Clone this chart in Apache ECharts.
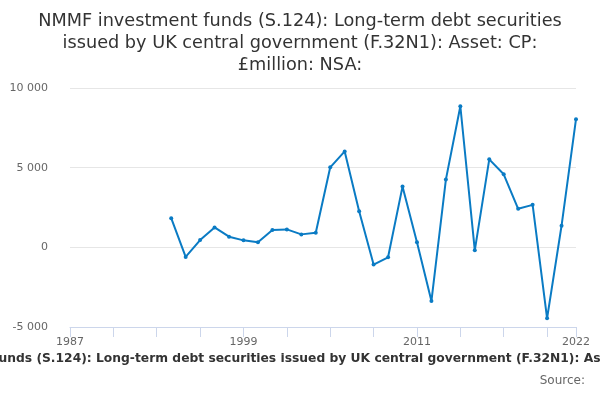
<!DOCTYPE html>
<html>
<head>
<meta charset="utf-8">
<script src="https://cdn.jsdelivr.net/npm/echarts@6/dist/echarts.min.js"></script>
<style>html,body{margin:0;padding:0;background:#fff}#c{width:600px;height:400px}</style>
</head>
<body>
<div id="c"></div>
<script>
var years = [];
for (var y = 1987; y <= 2022; y++) years.push(String(y));
var dataYears = ['1994','1995','1996','1997','1998','1999','2000','2001','2002','2003','2004','2005','2006','2007','2008','2009','2010','2011','2012','2013','2014','2015','2016','2017','2018','2019','2020','2021','2022'];
var dataValues = [1833,-604,458,1250,667,438,313,1083,1125,813,917,5021,6021,2271,-1083,-625,3813,313,-3375,4250,8854,-188,5521,4583,2417,2667,-4458,1354,8042];
var shownLabels = ['1987','1999','2011','2022'];
var titleText = 'NMMF investment funds (S.124): Long-term debt securities\nissued by UK central government (F.32N1): Asset: CP:\n£million: NSA:';
var axisTitle = 'NMMF investment funds (S.124): Long-term debt securities issued by UK central government (F.32N1): Asset: CP: £million: NSA:';

var map = {};
dataYears.forEach(function(y, i){ map[y] = dataValues[i]; });
var series = years.map(function(y){ return map.hasOwnProperty(y) ? map[y] : null; });

var chart = echarts.init(document.getElementById('c'));
chart.setOption({
  animation: false,
  textStyle: { fontFamily: 'DejaVu Sans' },
  title: [{
    text: titleText,
    left: 'center', top: 5,
    textStyle: { fontFamily: 'DejaVu Sans', fontSize: 17.7, fontWeight: 'normal', color: '#333', lineHeight: 22 }
  }, {
    text: 'Source:',
    right: 10, top: 370,
    textStyle: { fontFamily: 'DejaVu Sans', fontSize: 12, fontWeight: 'normal', color: '#666' }
  }],
  graphic: [{
    type: 'text',
    x: 310, y: 359,
    style: {
      text: axisTitle,
      textAlign: 'center', textVerticalAlign: 'middle',
      font: 'bold 12.3px "DejaVu Sans"',
      fill: '#333'
    }
  }],
  grid: { left: 70, right: 24, top: 88, bottom: 73, containLabel: false, outerBoundsMode: 'none' },
  xAxis: {
    type: 'category',
    data: years,
    boundaryGap: false,
    axisLine: { onZero: false, lineStyle: { color: '#ccd6eb' } },
    axisTick: { length: 10, lineStyle: { color: '#ccd6eb' }, interval: function(i){ return i % 3 === 0 || i === years.length - 1; } },
    axisLabel: { color: '#666', fontSize: 11, margin: 10, interval: function(i, v){ return shownLabels.indexOf(v) >= 0; } },
    splitLine: { show: false }
  },
  yAxis: {
    type: 'value',
    min: -5000, max: 10000, interval: 5000,
    axisLine: { show: false },
    axisTick: { show: false },
    axisLabel: { color: '#666', fontSize: 11, margin: 22, formatter: function(v){ return String(v).replace(/\B(?=(\d{3})+(?!\d))/g, ' '); } },
    splitLine: { lineStyle: { color: '#e6e6e6' } }
  },
  series: [{
    type: 'line',
    data: series,
    connectNulls: false,
    symbol: 'circle',
    symbolSize: 4,
    showAllSymbol: true,
    lineStyle: { color: '#0a7bc4', width: 2 },
    itemStyle: { color: '#0a7bc4' }
  }]
});
</script>
</body>
</html>
